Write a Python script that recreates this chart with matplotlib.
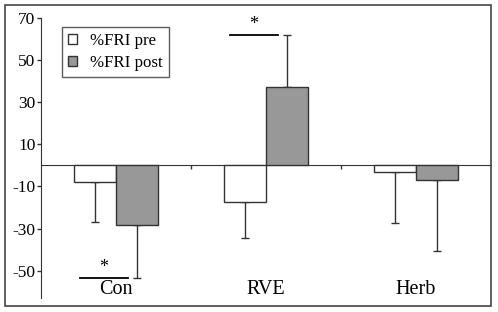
import matplotlib.pyplot as plt
from matplotlib import rc
from matplotlib.patches import Rectangle
import numpy as np

categories = ["Con", "RVE", "Herb"]
pre_values = [-8, -17.5, -3.3]
pre_err = [19, 17, 24]
post_values = [-28.5, 37.3, -7]
post_err = [25, 24.5, 33.5]
y_ticks = [70, 50, 30, 10, -10, -30, -50]

rc('font', family='serif', serif=['Liberation Serif', 'DejaVu Serif'], size=10)

fig = plt.figure(figsize=(4.98, 3.12), dpi=100)
ax = fig.add_axes([41 / 498, 1 - 298 / 312, 450 / 498, 280 / 312])

# outer frame around the whole figure
fig.patches.append(Rectangle((4.5 / 498, 6 / 312), 486.5 / 498, 301 / 312,
                             transform=fig.transFigure, fill=False,
                             edgecolor='#444444', linewidth=1.2))

x = np.arange(len(categories))
w = 0.28
edge = '#333333'
ax.bar(x - w / 2, pre_values, w, color='white', edgecolor=edge, linewidth=1.0,
       label='%FRI pre', zorder=3)
ax.bar(x + w / 2, post_values, w, color='#989898', edgecolor=edge, linewidth=1.0,
       label='%FRI post', zorder=3)

# one-sided error bars (away from zero)
for xs, vals, errs in [(x - w / 2, pre_values, pre_err), (x + w / 2, post_values, post_err)]:
    lower = [e if v < 0 else 0 for v, e in zip(vals, errs)]
    upper = [e if v >= 0 else 0 for v, e in zip(vals, errs)]
    ax.errorbar(xs, vals, yerr=[lower, upper], fmt='none', ecolor=edge,
                elinewidth=1.0, capsize=3, capthick=1.0, zorder=2)

ax.set_xlim(-0.5, 2.5)
ax.set_ylim(-63, 70)
ax.set_yticks(y_ticks)
ax.set_yticklabels([str(t) for t in y_ticks])
ax.tick_params(axis='y', direction='out', length=3, width=1, colors=edge, labelcolor='black',
               labelsize=12.5, pad=1)

ax.spines['top'].set_visible(False)
ax.spines['right'].set_visible(False)
ax.spines['bottom'].set_position(('data', 0))
ax.spines['left'].set_color(edge)
ax.spines['bottom'].set_color(edge)
ax.set_xticks([0.5, 1.5])
ax.set_xticklabels([])
ax.tick_params(axis='x', direction='out', length=3, width=1, colors=edge)

for xi, c in zip(x, categories):
    ax.text(xi, -59, c, ha='center', va='center', fontsize=14.5)

# significance markers
ax.plot([-0.24, 0.08], [-53.5, -53.5], color='black', linewidth=1.3, zorder=4)
ax.text(-0.08, -48.5, '*', ha='center', va='center', fontsize=13)
ax.plot([0.76, 1.08], [62, 62], color='black', linewidth=1.3, zorder=4)
ax.text(0.92, 67, '*', ha='center', va='center', fontsize=13)

leg = ax.legend(loc='upper left', bbox_to_anchor=(0.047, 0.968), fontsize=12.2,
                frameon=True, fancybox=False, edgecolor=edge, borderpad=0.35,
                handlelength=0.5, handleheight=0.5, handletextpad=0.8,
                labelspacing=0.35, borderaxespad=0)
leg.get_frame().set_linewidth(1.0)

plt.savefig("out.png", dpi=100)
